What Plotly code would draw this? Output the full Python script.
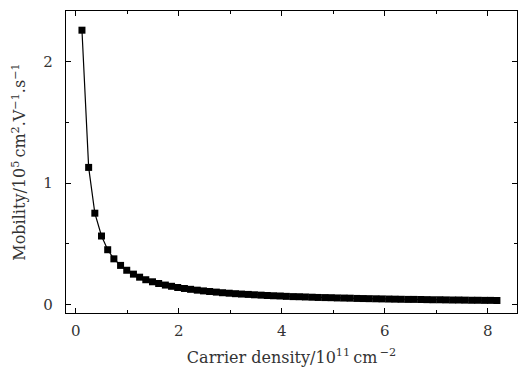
import plotly.graph_objects as go

carrier_density = [0.12, 0.25, 0.37, 0.50, 0.62, 0.74, 0.87, 0.99, 1.12, 1.24,
                   1.36, 1.49, 1.61, 1.74, 1.86, 1.98, 2.11, 2.23, 2.36, 2.48,
                   2.60, 2.73, 2.85, 2.98, 3.10, 3.22, 3.35, 3.47, 3.60, 3.72,
                   3.84, 3.97, 4.09, 4.22, 4.34, 4.46, 4.59, 4.71, 4.84, 4.96,
                   5.08, 5.21, 5.33, 5.46, 5.58, 5.70, 5.83, 5.95, 6.08, 6.20,
                   6.32, 6.45, 6.57, 6.70, 6.82, 6.94, 7.07, 7.19, 7.32, 7.44,
                   7.56, 7.69, 7.81, 7.94, 8.06, 8.18]
mobility = [2.26, 1.13, 0.753, 0.565, 0.452, 0.377, 0.323, 0.283, 0.251, 0.226,
            0.205, 0.188, 0.174, 0.161, 0.151, 0.141, 0.133, 0.126, 0.119, 0.113,
            0.108, 0.103, 0.098, 0.094, 0.090, 0.087, 0.084, 0.081, 0.078, 0.075,
            0.073, 0.071, 0.068, 0.066, 0.065, 0.063, 0.061, 0.059, 0.058, 0.057,
            0.055, 0.054, 0.053, 0.051, 0.050, 0.049, 0.048, 0.047, 0.046, 0.045,
            0.044, 0.043, 0.043, 0.042, 0.041, 0.040, 0.040, 0.039, 0.038, 0.038,
            0.037, 0.036, 0.036, 0.035, 0.035, 0.034]

x_ticks = [0, 2, 4, 6, 8]
y_ticks = [0, 1, 2]

tick_font = "DejaVu Serif, Liberation Serif, serif"
title_font = "DejaVu Serif, Liberation Serif, serif"

fig = go.Figure(go.Scatter(
    x=carrier_density, y=mobility, mode="lines+markers",
    line=dict(color="black", width=1.2),
    marker=dict(symbol="square", size=7, color="black"),
))

axis_common = dict(
    showline=True, linecolor="black", linewidth=1.2, mirror="allticks",
    ticks="inside", ticklen=5, tickwidth=1, tickcolor="black",
    showgrid=False, zeroline=False, automargin=False,
    tickfont=dict(family=tick_font, size=15, color="#333"),
)

fig.update_xaxes(
    range=[-0.19, 8.57], tickvals=x_ticks, ticklabelstandoff=4,
    minor=dict(ticks="inside", ticklen=3, tickwidth=1, tickcolor="black", dtick=1, tick0=0),
    title=dict(text="Carrier density/10<sup>11</sup>\u2009cm<sup>\u2009−2</sup>",
               font=dict(family=title_font, size=16, color="#333"), standoff=12),
    **axis_common,
)
fig.update_yaxes(
    range=[-0.069, 2.418], tickvals=y_ticks, ticklabelstandoff=9,
    minor=dict(ticks="inside", ticklen=3, tickwidth=1, tickcolor="black", dtick=0.5, tick0=0),
    title=dict(text="Mobility/10<sup>5</sup>\u2009cm<sup>2</sup>.V<sup>−1</sup>.s<sup>−1</sup>",
               font=dict(family=title_font, size=16, color="#333"), standoff=13),
    **axis_common,
)

fig.update_layout(
    width=529, height=371,
    margin=dict(l=66, r=12, t=11, b=58),
    plot_bgcolor="white", paper_bgcolor="white",
    showlegend=False,
)

fig.write_html("out.html")
